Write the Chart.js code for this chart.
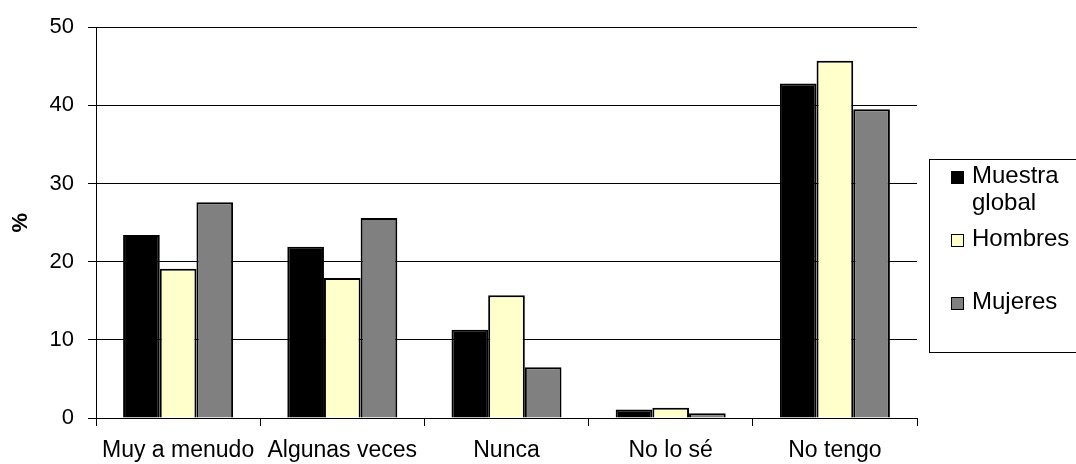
<!DOCTYPE html>
<html>
<head>
<meta charset="utf-8">
<script src="https://cdn.jsdelivr.net/npm/chart.js@4"></script>
<style>
  html, body { margin: 0; padding: 0; background: #fff; }
  #wrap { width: 1076px; height: 464px; position: relative; }
</style>
</head>
<body>
<div id="wrap"><canvas id="chart"></canvas></div>
<script>
// data
const categories = ['Muy a menudo', 'Algunas veces', 'Nunca', 'No lo sé', 'No tengo'];
const seriesNames = ['Muestra global', 'Hombres', 'Mujeres'];
const muestraGlobal = [23.4, 21.9, 11.3, 1.1, 42.8];
const hombres = [19.1, 17.9, 15.7, 1.3, 45.7];
const mujeres = [27.6, 25.6, 6.5, 0.6, 39.5];
const yTicks = [0, 10, 20, 30, 40, 50];
const colors = ['#000000', '#ffffcc', '#808080'];

const FONT = 'Liberation Sans, Arial, sans-serif';

// legend drawn on the canvas, Excel style box on the right
const boxLegend = {
  id: 'boxLegend',
  afterDraw(chart) {
    const ctx = chart.ctx;
    ctx.save();
    ctx.strokeStyle = '#000';
    ctx.lineWidth = 1;
    ctx.strokeRect(929.5, 159.5, 160, 193);

    ctx.font = '24px ' + FONT;
    ctx.textBaseline = 'alphabetic';
    ctx.textAlign = 'left';
    chart.data.datasets.forEach((ds, i) => {
      const base = 183 + i * 63;
      // wrap long names
      const words = ds.label.split(' ');
      const lines = [];
      let cur = '';
      words.forEach(w => {
        const t = cur ? cur + ' ' + w : w;
        if (ctx.measureText(t).width > 100 && cur) { lines.push(cur); cur = w; } else cur = t;
      });
      lines.push(cur);

      ctx.fillStyle = ds.backgroundColor;
      ctx.fillRect(951, base - 12, 13, 13);
      ctx.strokeStyle = '#000';
      ctx.strokeRect(951.5, base - 11.5, 12, 12);

      ctx.fillStyle = '#000';
      lines.forEach((l, k) => ctx.fillText(l, 972, base + k * 27));
    });
    ctx.restore();
  }
};

new Chart(document.getElementById('chart'), {
  type: 'bar',
  data: {
    labels: categories,
    datasets: [muestraGlobal, hombres, mujeres].map((d, i) => ({
      label: seriesNames[i],
      data: d,
      backgroundColor: colors[i],
      borderColor: '#000',
      borderWidth: 2,
      categoryPercentage: 0.67,
      barPercentage: 1.0
    }))
  },
  options: {
    responsive: true,
    maintainAspectRatio: false,
    animation: false,
    layout: { padding: { left: 0, top: 26, right: 159, bottom: 0 } },
    plugins: {
      legend: { display: false },
      tooltip: { enabled: false }
    },
    scales: {
      x: {
        offset: true,
        afterFit: s => { s.height = 46; },
        grid: { offset: true, drawOnChartArea: false, drawTicks: true, tickLength: 8, color: '#000' },
        border: { display: true, color: '#000', width: 1 },
        ticks: { color: '#000', font: { family: FONT, size: 23 }, padding: 11, maxRotation: 0, autoSkip: false }
      },
      y: {
        min: 0,
        max: 50,
        afterFit: s => { s.width = 96; },
        afterBuildTicks: s => { s.ticks = yTicks.map(v => ({ value: v })); },
        grid: { color: '#000', lineWidth: 1, drawTicks: true, tickLength: 8 },
        border: { display: true, color: '#000', width: 1 },
        ticks: { color: '#000', font: { family: FONT, size: 22 }, padding: 14 },
        title: { display: true, text: '%', color: '#000', font: { family: FONT, size: 22, weight: 'bold' }, padding: { top: 8, bottom: 0 } }
      }
    }
  },
  plugins: [boxLegend]
});
</script>
</body>
</html>
